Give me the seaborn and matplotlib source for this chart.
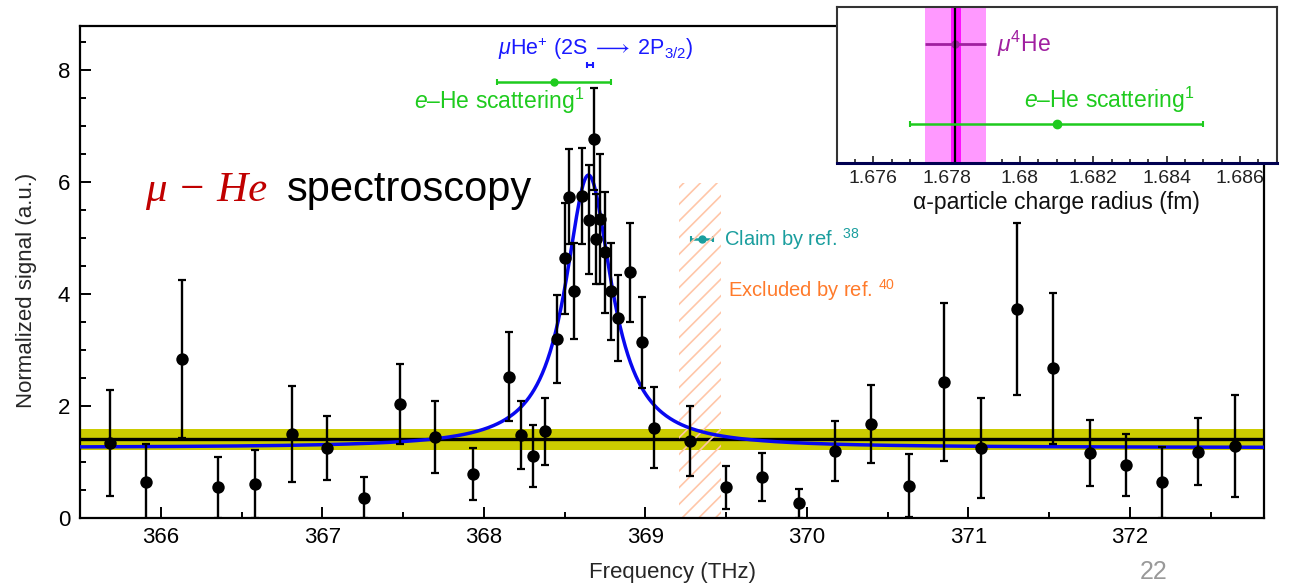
import numpy as np
import pandas as pd
import matplotlib.pyplot as plt
import matplotlib.ticker as mticker
import seaborn as sns

# measured resonance points (frequency in THz, normalized signal, 1-sigma error)
freq = [365.684, 365.907, 366.13, 366.355, 366.582, 366.81, 367.03, 367.257,
        367.48, 367.70, 367.93, 368.155, 368.23, 368.305, 368.378, 368.454,
        368.50, 368.53, 368.56, 368.605, 368.648, 368.68, 368.696, 368.72,
        368.75, 368.786, 368.83, 368.906, 368.98, 369.055, 369.278, 369.50,
        369.725, 369.95, 370.173, 370.40, 370.63, 370.85, 371.075, 371.30,
        371.523, 371.75, 371.973, 372.196, 372.42, 372.65]
signal = [1.33, 0.64, 2.83, 0.54, 0.60, 1.49, 1.25, 0.36, 2.03, 1.44, 0.78,
          2.52, 1.48, 1.10, 1.54, 3.19, 4.63, 5.73, 4.05, 5.74, 5.32, 6.76,
          4.98, 5.33, 4.74, 4.04, 3.56, 4.38, 3.13, 1.61, 1.37, 0.54, 0.72,
          0.26, 1.19, 1.67, 0.57, 2.42, 1.25, 3.73, 2.67, 1.16, 0.94, 0.63,
          1.18, 1.28]
signal_err = [0.95, 0.67, 1.41, 0.55, 0.61, 0.86, 0.57, 0.37, 0.72, 0.65, 0.46,
              0.80, 0.61, 0.56, 0.59, 0.79, 0.99, 0.85, 0.85, 0.86, 0.97, 0.91,
              0.80, 1.16, 1.08, 0.86, 0.77, 0.88, 0.81, 0.73, 0.62, 0.38, 0.43,
              0.26, 0.53, 0.70, 0.56, 1.41, 0.89, 1.53, 1.35, 0.59, 0.55, 0.64,
              0.60, 0.91]

# Lorentzian fit parameters
peak_center = 368.648
peak_height = 4.87
peak_hwhm = 0.175
fit_baseline = 1.25

# background level (no-laser) with its uncertainty band
bg_level = 1.40
bg_low = 1.21
bg_high = 1.58

# other determinations shown on the main panel
he_ion_freq, he_ion_err, he_ion_y = 368.656, 0.018, 8.08
ehe_freq, ehe_err, ehe_y = 368.433, 0.353, 7.78
claim_freq, claim_err, claim_y = 369.35, 0.068, 4.97
excl_lo, excl_hi, excl_top = 369.21, 369.47, 5.97

# inset: alpha-particle charge radius (fm)
radius_name = ['mu4He', 'eHe']
radius = [1.67824, 1.68100]
radius_err = [0.00083, 0.00400]
radius_row = [0.76, 0.25]
mu_exp_band = (1.67811, 1.67839)
mu_theory_band = (1.67741, 1.67907)

green = '#1ecb1e'
purple = '#a01fa0'
teal = '#1a9e9e'

sns.set_style('ticks')
plt.rcParams['font.family'] = ['Liberation Sans', 'DejaVu Sans']
plt.rcParams['mathtext.fontset'] = 'custom'
plt.rcParams['mathtext.rm'] = 'Liberation Sans'
plt.rcParams['mathtext.it'] = 'Liberation Sans:italic'
plt.rcParams['mathtext.sf'] = 'Liberation Sans'
plt.rcParams['hatch.linewidth'] = 1.2

fig = plt.figure(figsize=(12.89, 5.85), dpi=100)
ax = fig.add_axes([0.0621, 0.115, 0.9185, 0.8405])

df = pd.DataFrame({'freq': freq, 'signal': signal, 'err': signal_err})

# background band + line
ax.axhspan(bg_low, bg_high, color='#cccc00', lw=0, zorder=1)
ax.axhline(bg_level, color='black', lw=2.4, zorder=2)

# excluded region (hatched)
ax.fill_between([excl_lo, excl_hi], 0, excl_top, facecolor='none',
                edgecolor='#ffc6a8', hatch='//', lw=0, zorder=2.5)

# fit line
fx = np.linspace(365.5, 372.83, 900)
fy = fit_baseline + peak_height / (1 + ((fx - peak_center) / peak_hwhm) ** 2)
sns.lineplot(x=fx, y=fy, color='#0808f0', lw=2.5, ax=ax, zorder=3)

# data
ax.errorbar(df['freq'], df['signal'], yerr=df['err'], fmt='none', ecolor='black',
            elinewidth=1.7, capsize=3, capthick=1.6, zorder=4)
sns.scatterplot(data=df, x='freq', y='signal', color='black', s=80,
                linewidth=0, ax=ax, zorder=5)

# reference points
ax.errorbar(he_ion_freq, he_ion_y, xerr=he_ion_err, fmt='none', ecolor='#1a1aff',
            elinewidth=1.5, capsize=2, capthick=1.5)
ax.errorbar(ehe_freq, ehe_y, xerr=ehe_err, fmt='o', color=green, ms=5,
            elinewidth=1.8, capsize=2.5, capthick=1.5)
ax.errorbar(claim_freq, claim_y, xerr=claim_err, fmt='o', color=teal, ms=5,
            elinewidth=1.8, capsize=2.5, capthick=1.5)

ax.text(368.69, 8.38, r'$\mu$He$^{+}$ (2S$\;\longrightarrow\;$2P$_{3/2}$)',
        color='#1a1aff', fontsize=15.5, ha='center', va='center')
ax.text(368.625, 7.44, r'$e$–He scattering$^{1}$', color=green, fontsize=16.5,
        ha='right', va='center')
ax.text(369.486, 4.98, r'Claim by ref. $^{38}$', color=teal, fontsize=14.5,
        ha='left', va='center')
ax.text(369.51, 4.07, r'Excluded by ref. $^{40}$', color='#ff7a2a', fontsize=14.5,
        ha='left', va='center')
ax.text(365.9, 5.655, 'μ − He', color='#c00000', fontsize=31,
        family=['Liberation Serif', 'DejaVu Serif'], style='italic',
        ha='left', va='baseline')
ax.text(366.78, 5.655, 'spectroscopy', color='black', fontsize=30,
        ha='left', va='baseline')

ax.set_xlim(365.5, 372.83)
ax.set_ylim(0, 8.78)
ax.xaxis.set_major_locator(mticker.MultipleLocator(1))
ax.xaxis.set_minor_locator(mticker.MultipleLocator(0.5))
ax.yaxis.set_major_locator(mticker.MultipleLocator(2))
ax.yaxis.set_minor_locator(mticker.MultipleLocator(0.5))
ax.tick_params(which='both', direction='in', width=1.4, labelsize=16, pad=7,
               colors='black')
ax.tick_params(which='major', length=8)
ax.tick_params(which='minor', length=4)
for s in ax.spines.values():
    s.set_linewidth(1.6)
    s.set_color('black')
ax.set_xlabel('Frequency (THz)', fontsize=16, labelpad=10)
ax.set_ylabel('Normalized signal (a.u.)', fontsize=16)
ax.yaxis.set_label_coords(-0.036, 0.463)

# inset
ins = fig.add_axes([0.6491, 0.7219, 0.3413, 0.2667])
ins.set_facecolor('white')
ins.axvspan(*mu_theory_band, color='#ff99ff', lw=0)
ins.axvspan(*mu_exp_band, color='#ff10ff', lw=0)
ins.errorbar(radius[1], radius_row[1], xerr=radius_err[1], fmt='o', color=green,
             ms=6, elinewidth=1.8, capsize=2, capthick=1.5)
ins.errorbar(radius[0], radius_row[0], xerr=radius_err[0], fmt='o', color=purple,
             ms=5, elinewidth=2, capsize=0, zorder=1.5)
ins.axvline(radius[0], color='black', lw=1.6, zorder=1.8)
ins.text(1.67936, 0.76, r'$\mu^{4}$He', color=purple, fontsize=16.5,
         ha='left', va='center')
ins.text(1.68010, 0.405, r'$e$–He scattering$^{1}$', color=green, fontsize=16.5,
         ha='left', va='center')
ins.set_xlim(1.675, 1.687)
ins.set_ylim(0, 1)
ins.set_yticks([])
ins.xaxis.set_major_locator(mticker.MultipleLocator(0.002))
ins.xaxis.set_minor_locator(mticker.MultipleLocator(0.0005))
ins.xaxis.set_major_formatter(
    mticker.FuncFormatter(lambda v, p: f'{v:.3f}'.rstrip('0')))
ins.tick_params(which='both', direction='in', labelsize=14, pad=5, width=1.2,
                colors='#222222')
ins.tick_params(which='major', length=5)
ins.tick_params(which='minor', length=3)
for s in ins.spines.values():
    s.set_linewidth(1.5)
    s.set_color('#333333')
ins.spines['bottom'].set_color('#000050')
ins.spines['bottom'].set_linewidth(2.2)
ins.set_xlabel('α-particle charge radius (fm)', fontsize=16.5, labelpad=3,
               color='#111111')

# slide page number at the bottom edge
fig.text(0.895, 0.002, '22', color='#999999', fontsize=18, ha='center',
         va='bottom')

fig.savefig('out.png', dpi=100)
